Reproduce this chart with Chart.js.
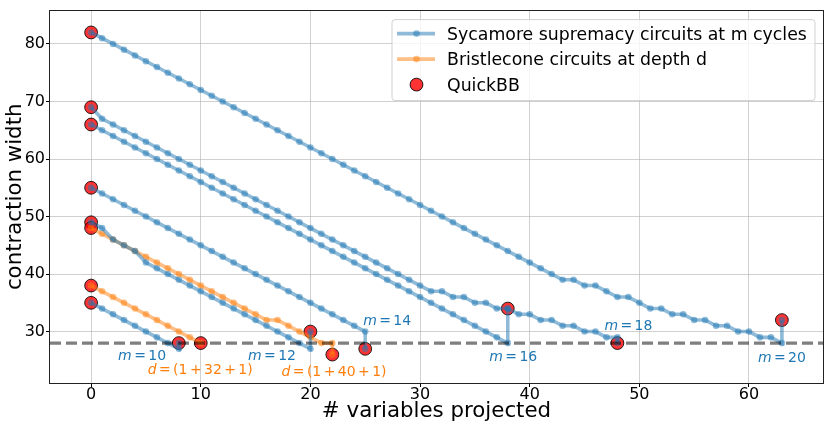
<!DOCTYPE html>
<html><head><meta charset="utf-8">
<script src="https://cdn.jsdelivr.net/npm/chart.js@4.4.1/dist/chart.umd.min.js"></script>
<style>html,body{margin:0;padding:0;background:#fff}canvas{display:block}</style>
</head><body>
<canvas id="c" width="831" height="430" style="width:831px;height:430px"></canvas>
<script>
// ---------------- data ----------------
const xTicks = [0, 10, 20, 30, 40, 50, 60];
const yTicks = [30, 40, 50, 60, 70, 80];

const sycamoreLabel = 'Sycamore supremacy circuits at m cycles';
const bristleLabel = 'Bristlecone circuits at depth d';
const quickLabel = 'QuickBB';

const sycamoreM = [10, 12, 14, 16, 18, 20];
const syc10 = [35,34,33,32,31,30,29,28,27];
const syc12 = [49,48,46,45,44,42,41,40,39,38,37,36,35,34,33,32,31,30,29,28,27];
const syc14 = [55,54,53,52,51,50,49,48,47,46,45,44,43,42,41,40,39,38,37,36,35,34,33,32,31,30];
const syc16 = [66,65,64,63,62,61,60,59,58,57,56,55,54,53,52,51,50,49,48,47,46,45,44,43,42,41,40,39,38,37,36,35,34,33,32,31,30,29,28];
const syc18 = [69,67,66,65,64,63,62,61,60,59,58,57,56,55,54,53,52,51,50,49,48,47,46,45,44,43,42,41,40,39,38,
               37,37,36,36,35,35,34,34,33,33,32,32,31,31,30,30,29,29];
const syc20 = [82,81,80,79,78,77,76,75,74,73,72,71,70,69,68,67,66,65,64,63,62,61,60,59,58,57,56,55,54,53,52,51,50,49,48,47,46,45,44,43,42,41,40,39,
               39,38,38,37,36,36,35,34,34,33,33,32,32,31,31,30,30,29,29,28];
const sycEndX = [8, 20, 25, 38, 48, 63];
const sycEndY = [28, 30, 27, 34, 28, 32];

const bristleDepth = [32, 40];
const bri32 = [38,37,36,35,34,33,32,31,30,29,28];
const bri40 = [48,47,46,45,44,43,42,41,40,39,38,37,36,35,34,33,32,32,31,30,29,28,28];
const briEndX = [10, 22];
const briEndY = [28, 26];

const quickX = [0,0,0,0,0,0,0,0, 8,20,25,38,48,63,10,22];
const quickY = [35,49,55,66,69,82,38,48, 28,30,27,34,28,32,28,26];

const cutoffWidth = 28;

// annotation anchors (data coords)
const sycLabelX = [4.65, 16.5, 27.0, 38.5, 49.0, 63.0];
const sycLabelY = [25.9, 25.9, 32.1, 25.75, 31.1, 25.6];
const briLabelX = [9.95, 22.15];
const briLabelY = [23.5, 23.2];

// ---------------- styling ----------------
const BLUE = '#1f77b4', ORANGE = '#ff7f0e';
const BLUE_A = 'rgba(31,119,180,0.5)', ORANGE_A = 'rgba(255,127,14,0.5)';
const FONT = '"DejaVu Sans", "Liberation Sans", sans-serif';

function series(ys, ex, ey) {
  const pts = ys.map((v, i) => ({x: i, y: v}));
  const last = pts[pts.length - 1];
  if (!(last.x === ex && last.y === ey)) pts.push({x: ex, y: ey});
  return pts;
}
function lineDs(label, pts, colA) {
  return {
    label, data: pts, showLine: true,
    borderColor: colA, backgroundColor: colA, borderWidth: 3.6,
    pointRadius: 3.3, pointBorderWidth: 0, pointBackgroundColor: colA,
    tension: 0
  };
}

const sycSeries = [syc10, syc12, syc14, syc16, syc18, syc20];
const briSeries = [bri32, bri40];
const datasets = [];
sycSeries.forEach((ys, i) => datasets.push(lineDs(sycamoreLabel, series(ys, sycEndX[i], sycEndY[i]), BLUE_A)));
briSeries.forEach((ys, i) => datasets.push(lineDs(bristleLabel, series(ys, briEndX[i], briEndY[i]), ORANGE_A)));
datasets.push({
  label: quickLabel,
  data: quickX.map((x, i) => ({x, y: quickY[i]})),
  showLine: false,
  pointRadius: 6.4, pointBorderWidth: 1,
  pointBackgroundColor: 'rgba(255,0,0,0.8)', pointBorderColor: 'rgba(0,0,0,0.85)'
});

function drawMath(ctx, str, cx, cy, color) {
  const size = 14, gap = 2.4;
  const normal = `${size}px ${FONT}`, ital = `italic ${size}px ${FONT}`;
  const parts = [];
  for (const ch of str) {
    const it = /[a-z]/.test(ch);
    const op = ch === '=' || ch === '+';
    ctx.font = it ? ital : normal;
    parts.push({ch, it, op, w: ctx.measureText(ch).width});
  }
  let total = 0;
  parts.forEach(p => total += p.w + (p.op ? 2 * gap : 0));
  let x = cx - total / 2;
  ctx.fillStyle = color; ctx.textAlign = 'left'; ctx.textBaseline = 'alphabetic';
  parts.forEach(p => {
    if (p.op) x += gap;
    ctx.font = p.it ? ital : normal;
    ctx.fillText(p.ch, x, cy + 5.2);
    x += p.w;
    if (p.op) x += gap;
  });
}

const decor = {
  id: 'decor',
  afterDatasetsDraw(chart) {
    const {ctx, chartArea: a, scales: {x, y}} = chart;
    // dashed cutoff line
    ctx.save();
    ctx.beginPath(); ctx.rect(a.left, a.top, a.right - a.left, a.bottom - a.top); ctx.clip();
    ctx.strokeStyle = 'rgba(0,0,0,0.5)'; ctx.lineWidth = 3.3; ctx.setLineDash([11, 5]);
    const yy = y.getPixelForValue(cutoffWidth);
    ctx.beginPath(); ctx.moveTo(a.left, yy); ctx.lineTo(a.right, yy); ctx.stroke();
    ctx.restore();

    // annotations
    ctx.save();
    sycamoreM.forEach((m, i) => drawMath(ctx, `m=${m}`, x.getPixelForValue(sycLabelX[i]), y.getPixelForValue(sycLabelY[i]), BLUE));
    bristleDepth.forEach((d, i) => drawMath(ctx, `d=(1+${d}+1)`, x.getPixelForValue(briLabelX[i]), y.getPixelForValue(briLabelY[i]), ORANGE));
    ctx.restore();

    // spines
    ctx.save();
    ctx.strokeStyle = '#222'; ctx.lineWidth = 1;
    ctx.strokeRect(Math.round(a.left) - 0.5, Math.round(a.top) - 0.5, Math.round(a.right - a.left) + 1, Math.round(a.bottom - a.top) + 1);
    ctx.restore();

    // legend
    ctx.save();
    const bw = 423, bh = 81;
    const bx = a.right - 8 - bw, by = a.top + 9;
    const r = 3;
    ctx.beginPath();
    ctx.moveTo(bx + r, by); ctx.lineTo(bx + bw - r, by); ctx.quadraticCurveTo(bx + bw, by, bx + bw, by + r);
    ctx.lineTo(bx + bw, by + bh - r); ctx.quadraticCurveTo(bx + bw, by + bh, bx + bw - r, by + bh);
    ctx.lineTo(bx + r, by + bh); ctx.quadraticCurveTo(bx, by + bh, bx, by + bh - r);
    ctx.lineTo(bx, by + r); ctx.quadraticCurveTo(bx, by, bx + r, by);
    ctx.closePath();
    ctx.fillStyle = 'rgba(255,255,255,0.8)'; ctx.fill();
    ctx.strokeStyle = 'rgba(204,204,204,0.9)'; ctx.lineWidth = 1; ctx.stroke();
    const rows = [
      {label: sycamoreLabel, col: BLUE_A, type: 'line'},
      {label: bristleLabel, col: ORANGE_A, type: 'line'},
      {label: quickLabel, type: 'dot'}
    ];
    const rowY = [14, 39.5, 65];
    rows.forEach((rw, i) => {
      const cy = by + rowY[i];
      const mx = bx + 24.5;
      if (rw.type === 'line') {
        ctx.strokeStyle = rw.col; ctx.lineWidth = 3.6;
        ctx.beginPath(); ctx.moveTo(bx + 5, cy); ctx.lineTo(bx + 43, cy); ctx.stroke();
        ctx.fillStyle = rw.col; ctx.beginPath(); ctx.arc(mx, cy, 3.3, 0, Math.PI * 2); ctx.fill();
      } else {
        ctx.fillStyle = 'rgba(255,0,0,0.8)'; ctx.strokeStyle = 'rgba(0,0,0,0.85)'; ctx.lineWidth = 1;
        ctx.beginPath(); ctx.arc(mx, cy, 6.4, 0, Math.PI * 2); ctx.fill(); ctx.stroke();
      }
      ctx.fillStyle = '#000'; ctx.font = `17.33px ${FONT}`; ctx.textAlign = 'left'; ctx.textBaseline = 'alphabetic';
      ctx.fillText(rw.label, bx + 55, cy + 6.3);
    });
    ctx.restore();
  }
};

new Chart(document.getElementById('c'), {
  type: 'scatter',
  data: {datasets},
  options: {
    responsive: false, animation: false, events: [],
    layout: {padding: {left: 0, right: 8, top: 7, bottom: 0}},
    plugins: {legend: {display: false}, tooltip: {enabled: false}},
    scales: {
      x: {
        type: 'linear', min: -3.75, max: 66.75,
        afterBuildTicks: s => { s.ticks = xTicks.map(v => ({value: v})); },
        afterFit: s => { s.height = 47; },
        grid: {color: 'rgba(176,176,176,0.6)', lineWidth: 1, drawTicks: true, tickLength: 4, tickColor: '#000', tickWidth: 1},
        border: {display: false},
        ticks: {color: '#000', font: {family: FONT, size: 16}, padding: -2, maxRotation: 0, autoSkip: false, callback: v => String(v)},
        title: {display: true, text: '# variables projected', color: '#000', font: {family: FONT, size: 21.33}, padding: {top: 0, bottom: 6}}
      },
      y: {
        type: 'linear', min: 21.06, max: 85.8,
        afterBuildTicks: s => { s.ticks = yTicks.map(v => ({value: v})); },
        afterFit: s => { s.width = 50; },
        grid: {color: 'rgba(176,176,176,0.6)', lineWidth: 1, drawTicks: true, tickLength: 4, tickColor: '#000', tickWidth: 1},
        border: {display: false},
        ticks: {color: '#000', font: {family: FONT, size: 16}, padding: 1, autoSkip: false, callback: v => String(v)},
        title: {display: true, text: 'contraction width', color: '#000', font: {family: FONT, size: 21.33}, padding: {top: 3, bottom: 0}}
      }
    }
  },
  plugins: [decor]
});
</script>
</body></html>
